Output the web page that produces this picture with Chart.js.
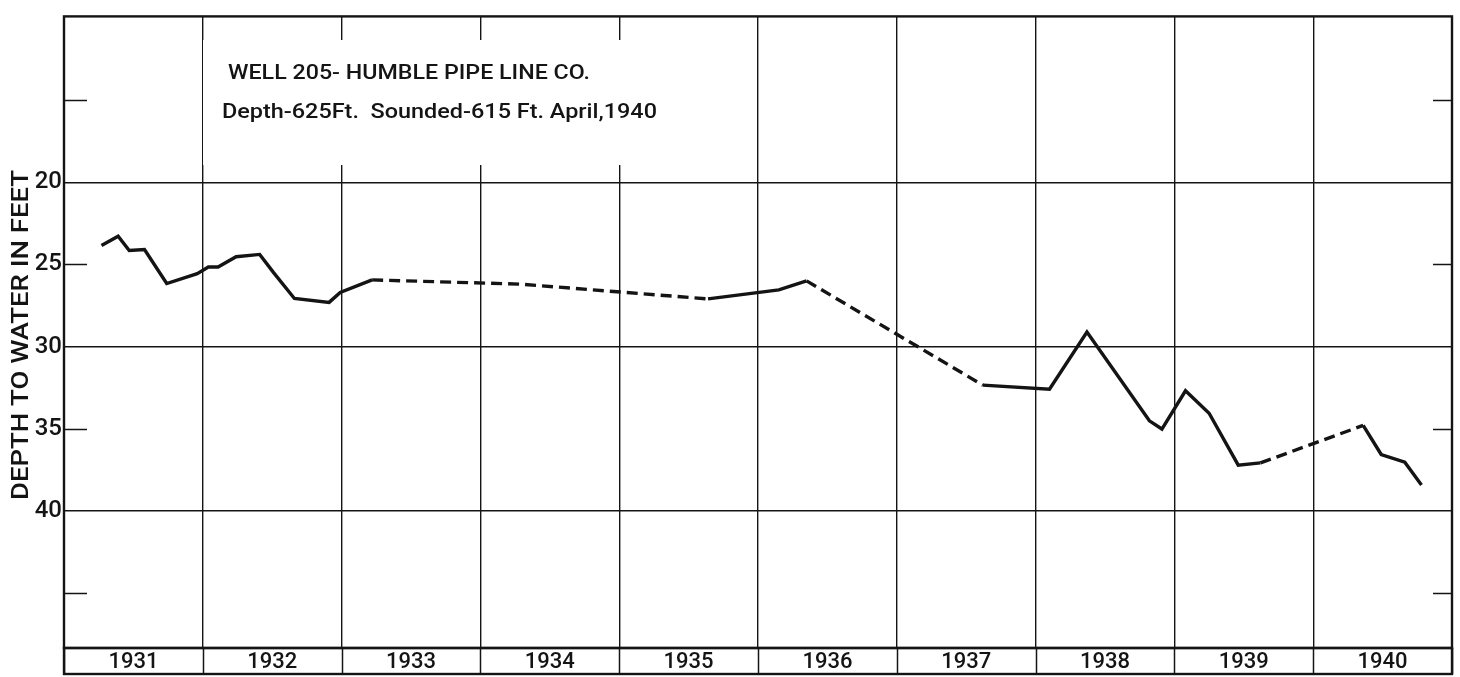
<!DOCTYPE html>
<html>
<head>
<meta charset="utf-8">
<script src="https://cdn.jsdelivr.net/npm/chart.js@4.4.1/dist/chart.umd.min.js"></script>
<style>
html,body{margin:0;padding:0;background:#fff}
#wrap{width:1460px;height:677px;position:relative}
</style>
</head>
<body>
<div id="wrap"><canvas id="c"></canvas></div>
<script>
// ---- data ----
const measureYears = [1931.27, 1931.39, 1931.47, 1931.58, 1931.74, 1931.96, 1932.04, 1932.11, 1932.24, 1932.41,
  1932.51, 1932.66, 1932.91, 1932.99, 1933.22, 1934.29, 1935.64, 1936.15, 1936.35, 1937.62,
  1938.10, 1938.37, 1938.82, 1938.91, 1939.08, 1939.25, 1939.46, 1939.62, 1940.36, 1940.49,
  1940.66, 1940.78];
const depthFeet = [23.85, 23.28, 24.15, 24.09, 26.16, 25.56, 25.16, 25.16, 24.53, 24.39,
  25.50, 27.07, 27.31, 26.70, 25.94, 26.20, 27.10, 26.55, 26.00, 32.35,
  32.60, 29.12, 34.52, 35.02, 32.69, 34.06, 37.22, 37.08, 34.80, 36.57,
  37.04, 38.43];
// 1 = segment from this point to the next one is estimated (dashed)
const dashedAfter = [0,0,0,0,0,0,0,0,0,0, 0,0,0,0,1,1,0,0,1,0, 0,0,0,0,0,0,0,1,0,0, 0,0];

const yearLabels = ['1931','1932','1933','1934','1935','1936','1937','1938','1939','1940'];
const yearCenters = [1931.5,1932.5,1933.5,1934.5,1935.5,1936.5,1937.5,1938.5,1939.5,1940.5];
const yearBoundaries = [1931,1932,1933,1934,1935,1936,1937,1938,1939,1940,1941];
const depthTicks = [15,20,25,30,35,40,45];
const depthLabelled = [20,25,30,35,40];
const depthFullLines = [20,30,40];
const titleLines = ['WELL 205- HUMBLE PIPE LINE CO.', 'Depth-625Ft.  Sounded-615 Ft. April,1940'];
const yAxisTitle = 'DEPTH TO WATER IN FEET';

const FONT = "Roboto, 'Liberation Sans', Arial, sans-serif";
const INK = '#141414';

const points = measureYears.map((x, i) => ({x, y: depthFeet[i]}));

function drawFit(ctx, txt, x, y, font, w) {
  ctx.font = font;
  const m = ctx.measureText(txt).width;
  ctx.save();
  ctx.translate(x, y);
  ctx.scale(w / m, 1);
  ctx.fillText(txt, 0, 0);
  ctx.restore();
}

const decor = {
  id: 'decor',
  beforeDatasetsDraw(chart) {
    const ctx = chart.ctx, ca = chart.chartArea, ys = chart.scales.y;
    ctx.save();
    // short tick marks on both sides
    ctx.strokeStyle = INK; ctx.lineWidth = 1.5;
    depthTicks.filter(v => !depthFullLines.includes(v)).forEach(v => {
      const py = Math.round(ys.getPixelForValue(v)) + 0.5;
      ctx.beginPath();
      ctx.moveTo(ca.left, py); ctx.lineTo(ca.left + 23, py);
      ctx.moveTo(ca.right - 19, py); ctx.lineTo(ca.right, py);
      ctx.stroke();
    });
    // white title box covering the grid
    ctx.fillStyle = '#fff';
    ctx.fillRect(203, 40, 487, 125);
    // title text
    ctx.fillStyle = INK;
    ctx.textBaseline = 'alphabetic';
    ctx.textAlign = 'left';
    drawFit(ctx, titleLines[0], 228, 79, '500 21px ' + FONT, 362);
    drawFit(ctx, titleLines[1], 222, 118, '500 20px ' + FONT, 435);
    // y axis title
    ctx.save();
    ctx.translate(28, 335);
    ctx.rotate(-Math.PI / 2);
    ctx.textAlign = 'left';
    ctx.font = '500 23px ' + FONT;
    const w = ctx.measureText(yAxisTitle).width;
    ctx.scale(330 / w, 1);
    ctx.fillText(yAxisTitle, -w / 2, 0);
    ctx.restore();
    ctx.restore();
  },
  afterDraw(chart) {
    const ctx = chart.ctx, ca = chart.chartArea, xs = chart.scales.x;
    ctx.save();
    ctx.strokeStyle = INK;
    ctx.lineWidth = 2.4;
    ctx.strokeRect(ca.left, ca.top, ca.right - ca.left, ca.bottom - ca.top);
    ctx.strokeRect(ca.left, ca.bottom, ca.right - ca.left, 26);
    ctx.lineWidth = 1.5;
    yearBoundaries.forEach(v => {
      const px = Math.round(xs.getPixelForValue(v)) + 0.5;
      ctx.beginPath(); ctx.moveTo(px, ca.bottom); ctx.lineTo(px, ca.bottom + 26); ctx.stroke();
    });
    ctx.restore();
  }
};

new Chart(document.getElementById('c'), {
  type: 'line',
  data: {
    datasets: [{
      data: points,
      xAxisID: 'x',
      yAxisID: 'y',
      borderColor: INK,
      borderWidth: 3.4,
      pointRadius: 0,
      tension: 0,
      fill: false,
      segment: {
        borderDash: c => dashedAfter[c.p0DataIndex] ? [11, 6] : undefined
      }
    }]
  },
  options: {
    responsive: true,
    maintainAspectRatio: false,
    animation: false,
    events: [],
    layout: {padding: {left: 0, right: 8, top: 12, bottom: 0}},
    plugins: {legend: {display: false}, tooltip: {enabled: false}},
    scales: {
      xg: {
        type: 'linear', position: 'bottom', min: 1931, max: 1941,
        afterBuildTicks: s => { s.ticks = yearBoundaries.map(v => ({value: v})); },
        afterFit: s => { s.height = 0; },
        ticks: {display: false},
        border: {display: false},
        grid: {color: INK, lineWidth: 1.4, drawTicks: false}
      },
      x: {
        type: 'linear', position: 'bottom', min: 1931, max: 1941,
        afterBuildTicks: s => { s.ticks = yearCenters.map(v => ({value: v})); },
        afterFit: s => { s.height = 29; },
        grid: {display: false, drawTicks: false},
        border: {display: false},
        ticks: {
          autoSkip: false, maxRotation: 0, padding: 1, color: INK,
          font: {family: FONT, size: 22, weight: '500'},
          callback: v => yearLabels[yearCenters.indexOf(v)]
        }
      },
      y: {
        type: 'linear', position: 'left', reverse: true, min: 9.9, max: 48.35,
        afterBuildTicks: s => { s.ticks = depthTicks.map(v => ({value: v})); },
        afterFit: s => { s.width = 64; },
        border: {display: false},
        grid: {
          drawTicks: false, lineWidth: 1.4,
          color: c => (c.tick && depthFullLines.includes(c.tick.value)) ? INK : 'rgba(0,0,0,0)'
        },
        ticks: {
          padding: 2, color: INK,
          font: {family: FONT, size: 24, weight: '500'},
          callback: v => depthLabelled.includes(v) ? String(v) : ''
        },
        title: {display: false}
      }
    }
  },
  plugins: [decor]
});
</script>
</body>
</html>
